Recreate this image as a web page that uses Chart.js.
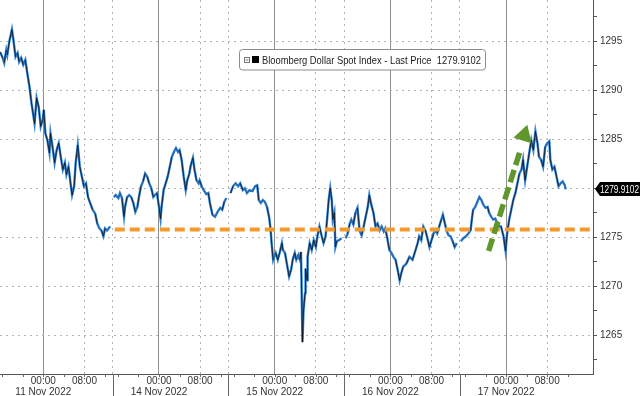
<!DOCTYPE html>
<html>
<head>
<meta charset="utf-8">
<script src="https://cdn.jsdelivr.net/npm/chart.js@4.4.0/dist/chart.umd.min.js"></script>
<style>
    html, body { margin: 0; padding: 0; background: #fff; }
    #wrap { width: 640px; height: 396px; }
</style>
</head>
<body>
<div id="wrap"><canvas id="dxyChart" width="640" height="396"></canvas></div>
<script>
const FONT = "'Liberation Sans', Arial, sans-serif";

const seriesName = 'Bloomberg Dollar Spot Index - Last Price';
const lastPrice = 1279.9102;

// session timeline in hours, 00:00 11 Nov = 0 (overnight gaps compressed like the terminal does)
const dayLabels = ['11 Nov 2022', '14 Nov 2022', '15 Nov 2022', '16 Nov 2022', '17 Nov 2022'];
const dayMidnights = [0, 22.5, 45, 67.5, 90];
const sessionBreaks = [13.5, 36, 58.5, 81];
const yLabels = [1265, 1270, 1275, 1280, 1285, 1290, 1295];

const hours = [
    // 11 Nov
    -8.4, -7.9, -7.6, -7.2, -7.0, -6.6, -6.1, -5.8, -5.4, -5.0,
    -4.7, -4.3, -3.9, -3.5, -3.1, -2.7, -2.3, -1.9, -1.7, -1.3,
    -0.9, -0.5, -0.1, 0.1, 0.4, 0.8, 1.2, 1.4, 1.8, 2.2,
    2.6, 3.0, 3.4, 3.8, 4.2, 4.5, 4.9, 5.3, 5.6, 6.0,
    6.3, 6.7, 7.1, 7.5, 7.9, 8.3, 8.7, 9.1, 9.6, 10.1,
    10.5, 10.9, 11.3, 11.7, 12.0, 12.4, 13.0,
    // 14 Nov
    13.7, 14.1, 14.6, 14.9, 15.3, 15.7, 15.9, 16.3, 16.7, 17.1,
    17.5, 17.9, 18.3, 18.6, 19.0, 19.4, 19.8, 20.2, 20.6, 21.0,
    21.4, 21.7, 22.1, 22.5, 22.8, 23.0, 23.4, 23.8, 24.2, 24.6,
    25.0, 25.4, 25.8, 26.2, 26.5, 26.9, 27.3, 27.7, 28.0, 28.4,
    28.7, 29.1, 29.4, 29.8, 30.2, 30.4, 30.8, 31.2, 31.7, 32.1,
    32.4, 32.9, 33.4, 33.9, 34.4, 34.8, 35.2, 35.6,
    // 15 Nov
    36.4, 36.9, 37.4, 37.9, 38.3, 38.8, 39.2, 39.6, 40.1, 40.7,
    41.2, 41.6, 41.9, 42.3, 42.7, 43.1, 43.5, 43.9, 44.2, 44.4,
    44.7, 44.9, 45.2, 45.6, 46.0, 46.4, 46.6, 47.0, 47.4, 47.8,
    48.2, 48.5, 48.9, 49.2, 49.6, 49.9, 50.1, 50.2, 50.4, 50.6,
    50.9, 51.0, 51.3, 51.4, 51.8, 52.2, 52.6, 53.0, 53.3, 53.7,
    54.1, 54.5, 54.9, 55.3, 55.5, 55.8, 56.1, 56.3, 56.6, 56.8,
    57.1, 57.5, 58.0,
    // 16 Nov
    58.8, 59.2, 59.6, 59.9, 60.3, 60.7, 61.1, 61.5, 61.9, 62.3,
    62.7, 63.1, 63.4, 63.8, 64.2, 64.6, 65.0, 65.4, 65.8, 66.2,
    66.5, 66.9, 67.3, 67.7, 68.1, 68.5, 68.9, 69.3, 69.6, 70.0,
    70.6, 71.2, 71.8, 72.4, 72.8, 73.1, 73.5, 73.9, 74.3, 74.7,
    75.1, 75.5, 75.9, 76.3, 76.6, 77.0, 77.4, 77.7, 78.1, 78.4,
    78.8, 79.2, 79.6, 80.0, 80.4,
    // 17 Nov
    81.2, 81.7, 82.2, 82.7, 83.1, 83.4, 83.6, 84.0, 84.4, 84.8,
    85.2, 85.6, 86.0, 86.4, 86.7, 87.1, 87.5, 87.9, 88.3, 88.7,
    89.0, 89.5, 89.9, 90.2, 90.6, 91.0, 91.4, 91.8, 92.2, 92.6,
    93.0, 93.3, 93.7, 94.1, 94.5, 94.9, 95.3, 95.7, 96.1, 96.4,
    96.8, 97.2, 97.6, 98.0, 98.4, 98.6, 99.0, 99.4, 99.8, 100.2,
    100.6, 101.0, 101.4, 101.6
];

const prices = [
    // 11 Nov
    1293.9, 1293.3, 1292.8, 1294.1, 1293.6, 1295.0, 1296.2, 1295.1, 1293.4, 1293.8,
    1292.9, 1293.3, 1292.6, 1293.1, 1291.7, 1290.4, 1288.7, 1287.3, 1286.6, 1289.2,
    1288.3, 1286.3, 1287.0, 1288.0, 1285.6, 1284.9, 1283.6, 1285.6, 1284.2, 1282.6,
    1283.9, 1284.6, 1283.2, 1281.9, 1282.6, 1281.4, 1282.2, 1280.5, 1279.3, 1280.2,
    1282.6, 1284.4, 1282.2, 1281.2, 1280.2, 1280.5, 1279.1, 1278.5, 1277.8, 1277.4,
    1276.4, 1275.9, 1275.7, 1275.1, 1275.9, 1275.7, 1276.1,
    // 14 Nov
    1279.1, 1279.3, 1279.0, 1279.5, 1279.0, 1277.1, 1278.1, 1279.1, 1279.3, 1279.1,
    1278.5, 1277.6, 1278.1, 1279.1, 1280.2, 1280.7, 1281.5, 1281.2, 1280.5, 1280.0,
    1279.1, 1279.3, 1279.5, 1278.1, 1276.9, 1278.1, 1279.8, 1280.5, 1281.2, 1282.2,
    1283.2, 1283.7, 1284.1, 1283.7, 1283.9, 1282.9, 1281.2, 1279.8, 1280.8, 1281.5,
    1282.4, 1283.1, 1281.9, 1280.8, 1280.5, 1280.8, 1280.2, 1279.8, 1279.4, 1279.5,
    1278.5, 1277.3, 1277.1, 1277.6, 1278.0, 1277.8, 1278.6, 1279.0,
    // 15 Nov
    1279.5, 1280.2, 1280.5, 1280.2, 1280.5, 1279.8, 1280.0, 1279.5, 1279.8, 1279.7,
    1280.2, 1280.3, 1278.8, 1278.5, 1278.8, 1278.6, 1278.1, 1277.1, 1275.8, 1274.4,
    1272.7, 1273.0, 1273.4, 1272.7, 1273.5, 1274.4, 1273.7, 1273.4, 1272.2, 1271.0,
    1271.7, 1272.7, 1273.4, 1272.7, 1273.2, 1272.7, 1273.5, 1271.0, 1264.3, 1267.5,
    1269.3, 1271.8, 1270.6, 1273.0, 1274.4, 1273.7, 1274.7, 1274.0, 1275.1, 1276.1,
    1275.2, 1274.4, 1275.1, 1277.5, 1278.8, 1280.0, 1278.8, 1276.8, 1277.5, 1274.0,
    1274.6, 1274.7, 1274.9,
    // 16 Nov
    1274.9, 1275.4, 1276.4, 1276.8, 1276.3, 1277.5, 1278.0, 1275.7, 1275.2, 1276.1,
    1277.1, 1278.1, 1279.3, 1278.3, 1277.5, 1276.1, 1276.4, 1275.7, 1276.1, 1275.6,
    1275.9, 1274.9, 1273.7, 1273.4, 1273.0, 1272.7, 1271.7, 1270.6, 1271.3, 1272.0,
    1272.3, 1273.0, 1272.7, 1273.7, 1274.4, 1275.1, 1274.7, 1276.1, 1275.7, 1274.9,
    1274.0, 1274.7, 1275.4, 1275.7, 1275.4, 1276.1, 1276.8, 1277.3, 1276.4, 1275.7,
    1275.2, 1275.1, 1274.6, 1274.0, 1274.4,
    // 17 Nov
    1274.6, 1274.9, 1275.1, 1275.4, 1275.7, 1277.1, 1277.8, 1278.1, 1278.6, 1279.1,
    1278.8, 1278.3, 1278.0, 1278.1, 1277.5, 1277.1, 1276.8, 1276.9, 1276.4, 1276.1,
    1276.1, 1275.1, 1273.6, 1275.4, 1276.8, 1277.8, 1278.8, 1279.5, 1280.5, 1281.5,
    1281.9, 1282.9, 1280.8, 1282.2, 1283.6, 1284.9, 1283.9, 1285.8, 1284.6, 1283.2,
    1282.9, 1282.2, 1284.2, 1284.6, 1284.8, 1282.9, 1281.9, 1282.2, 1281.2, 1280.2,
    1280.5, 1280.7, 1280.3, 1279.9
];

// hand drawn annotations (orange support line, green up arrow)
const supportLevel = 1275.8;
const supportStart = 13.9;
const arrowTail = { x: 86.6, y: 1273.6 };
const arrowNeck = { x: 92.9, y: 1284.1 };
const arrowTip = { x: 93.5, y: 1285.4 };

const xMin = -8.42;
const xMax = 106.9;
const yMin = 1261.05;
const yMax = 1299.2;

// build points, breaking the line between sessions
const pricePoints = [];
hours.forEach((h, i) => {
    if (i > 0 && sessionBreaks.some(b => b > hours[i - 1] && b < h)) {
        pricePoints.push({ x: (hours[i - 1] + h) / 2, y: null });
    }
    pricePoints.push({ x: h, y: prices[i] });
});

const xTickValues = [];
dayMidnights.forEach((m, k) => {
    xTickValues.push(m, m + 8);
    if (k < sessionBreaks.length) xTickValues.push(sessionBreaks[k]);
});

function isMidnight(v) { return dayMidnights.some(m => Math.abs(m - v) < 0.01); }
function isBreak(v) { return sessionBreaks.some(b => Math.abs(b - v) < 0.01); }

// text squeezed to a given width, the terminal font is narrow
function narrowText(ctx, text, x, y, width) {
    const w = ctx.measureText(text).width;
    const k = Math.min(1, width / w);
    ctx.save();
    ctx.translate(x, y);
    ctx.scale(k, 1);
    ctx.fillText(text, 0, 0);
    ctx.restore();
}

const bbgExtras = {
    id: 'bbgExtras',
    afterDraw(chart) {
        const ctx = chart.ctx;
        const xs = chart.scales.x;
        const ys = chart.scales.y;
        const area = chart.chartArea;

        ctx.save();
        // session separators below the axis + small 4h ticks
        ctx.strokeStyle = '#666';
        ctx.lineWidth = 1;
        sessionBreaks.forEach(b => {
            const px = Math.round(xs.getPixelForValue(b)) + 0.5;
            ctx.beginPath(); ctx.moveTo(px, area.bottom); ctx.lineTo(px, chart.height); ctx.stroke();
        });
        dayMidnights.forEach(m => {
            [-8, -4, 0, 4, 8, 12].forEach(off => {
                const h = m + off;
                if (h < xMin || h > xMax) return;
                const px = Math.round(xs.getPixelForValue(h)) + 0.5;
                ctx.beginPath(); ctx.moveTo(px, area.bottom); ctx.lineTo(px, area.bottom + 3); ctx.stroke();
            });
        });

        // legend box
        ctx.fillStyle = '#fff';
        ctx.strokeStyle = '#8c8c8c';
        ctx.beginPath();
        ctx.roundRect(239.5, 49.5, 246, 20.5, 3);
        ctx.fill(); ctx.stroke();
        ctx.strokeStyle = '#777';
        ctx.strokeRect(244.5, 57.5, 5, 5);
        ctx.beginPath(); ctx.moveTo(245.5, 60); ctx.lineTo(248.5, 60); ctx.stroke();
        ctx.fillStyle = '#000';
        ctx.fillRect(252, 56, 7, 7);
        ctx.fillStyle = '#222';
        ctx.font = '11.5px ' + FONT;
        ctx.textBaseline = 'middle';
        ctx.textAlign = 'left';
        narrowText(ctx, seriesName + '  ' + lastPrice.toFixed(4), 262, 60.5, 219);

        // last price tag on the axis
        const ty = Math.round(ys.getPixelForValue(lastPrice));
        const tx = ys.left + 2;
        ctx.fillStyle = '#000';
        ctx.beginPath();
        ctx.moveTo(tx, ty);
        ctx.lineTo(tx + 5, ty - 7);
        ctx.lineTo(chart.width, ty - 7);
        ctx.lineTo(chart.width, ty + 7);
        ctx.lineTo(tx + 5, ty + 7);
        ctx.closePath();
        ctx.fill();
        ctx.fillStyle = '#fff';
        ctx.font = '11px ' + FONT;
        narrowText(ctx, lastPrice.toFixed(4), tx + 5, ty + 0.5, 39);
        ctx.restore();
    }
};

const ctx = document.getElementById('dxyChart').getContext('2d');
new Chart(ctx, {
    type: 'line',
    data: {
        datasets: [
            {
                label: 'support',
                data: [{ x: supportStart, y: supportLevel }, { x: xMax, y: supportLevel }],
                borderColor: '#f39a2e',
                borderWidth: 4,
                borderDash: [10, 5],
                pointRadius: 0,
                order: 1
            },
            {
                label: 'arrow',
                data: [arrowTail, arrowNeck],
                borderColor: '#5f972b',
                borderWidth: 5.5,
                borderDash: [13, 5],
                pointRadius: 0,
                order: 0
            },
            {
                label: 'arrowHead',
                data: [arrowTip],
                showLine: false,
                pointStyle: 'triangle',
                pointRadius: 11,
                pointRotation: 17,
                backgroundColor: '#5f972b',
                borderWidth: 0,
                order: 0
            },
            {
                label: seriesName,
                data: pricePoints,
                borderWidth: 1,
                pointRadius: 0,
                spanGaps: false,
                segment: {
                    // dark where the bars are long (fast moves), light elsewhere
                    borderColor: (c) => Math.abs(c.p1.y - c.p0.y) > 5 ? 'rgba(10,10,10,0.75)' : 'rgba(10,10,10,0.25)'
                },
                order: 2
            },
            {
                label: seriesName + ' bars',
                data: pricePoints,
                borderColor: '#2f80d4',
                borderWidth: 2.4,
                pointRadius: 0,
                spanGaps: false,
                order: 3
            }
        ]
    },
    options: {
        responsive: false,
        animation: false,
        layout: { padding: 0, autoPadding: false },
        plugins: {
            legend: { display: false },
            tooltip: { enabled: false }
        },
        scales: {
            x: {
                type: 'linear',
                min: xMin,
                max: xMax,
                afterBuildTicks: (scale) => { scale.ticks = xTickValues.map(v => ({ value: v })); },
                afterFit: (scale) => {
                    scale.height = 22;
                    scale.paddingLeft = 0;
                    scale.paddingRight = 0;
                },
                ticks: {
                    autoSkip: false,
                    maxRotation: 0,
                    padding: 2,
                    color: '#333',
                    font: { family: FONT, size: 10, lineHeight: 1.1 },
                    callback: (v) => {
                        const k = dayMidnights.findIndex(m => Math.abs(m - v) < 0.01);
                        if (k >= 0) return ['00:00', dayLabels[k]];
                        if (isBreak(v)) return '';
                        return '08:00';
                    }
                },
                grid: {
                    drawTicks: false,
                    color: (c) => (c.tick && isMidnight(c.tick.value)) ? '#8f8f8f' : '#b3b3b3'
                },
                border: {
                    color: '#555',
                    dash: (c) => (c.tick && !isMidnight(c.tick.value)) ? [2, 4] : []
                }
            },
            y: {
                position: 'right',
                min: yMin,
                max: yMax,
                afterBuildTicks: (scale) => {
                    const t = [];
                    for (let v = 1262.5; v <= 1297.5; v += 2.5) t.push({ value: v });
                    scale.ticks = t;
                },
                afterFit: (scale) => {
                    scale.width = 47;
                    scale.paddingTop = 0;
                    scale.paddingBottom = 0;
                },
                ticks: {
                    padding: 3,
                    color: '#333',
                    font: { family: FONT, size: 10 },
                    callback: (v) => (yLabels.includes(v) && Math.abs(v - lastPrice) > 1.5) ? String(v) : ''
                },
                grid: {
                    tickLength: 4,
                    tickColor: '#555',
                    color: (c) => (c.tick && yLabels.includes(c.tick.value)) ? '#b3b3b3' : 'rgba(0,0,0,0)'
                },
                border: { color: '#555', dash: [2, 4] }
            }
        }
    },
    plugins: [bbgExtras]
});
</script>
</body>
</html>
